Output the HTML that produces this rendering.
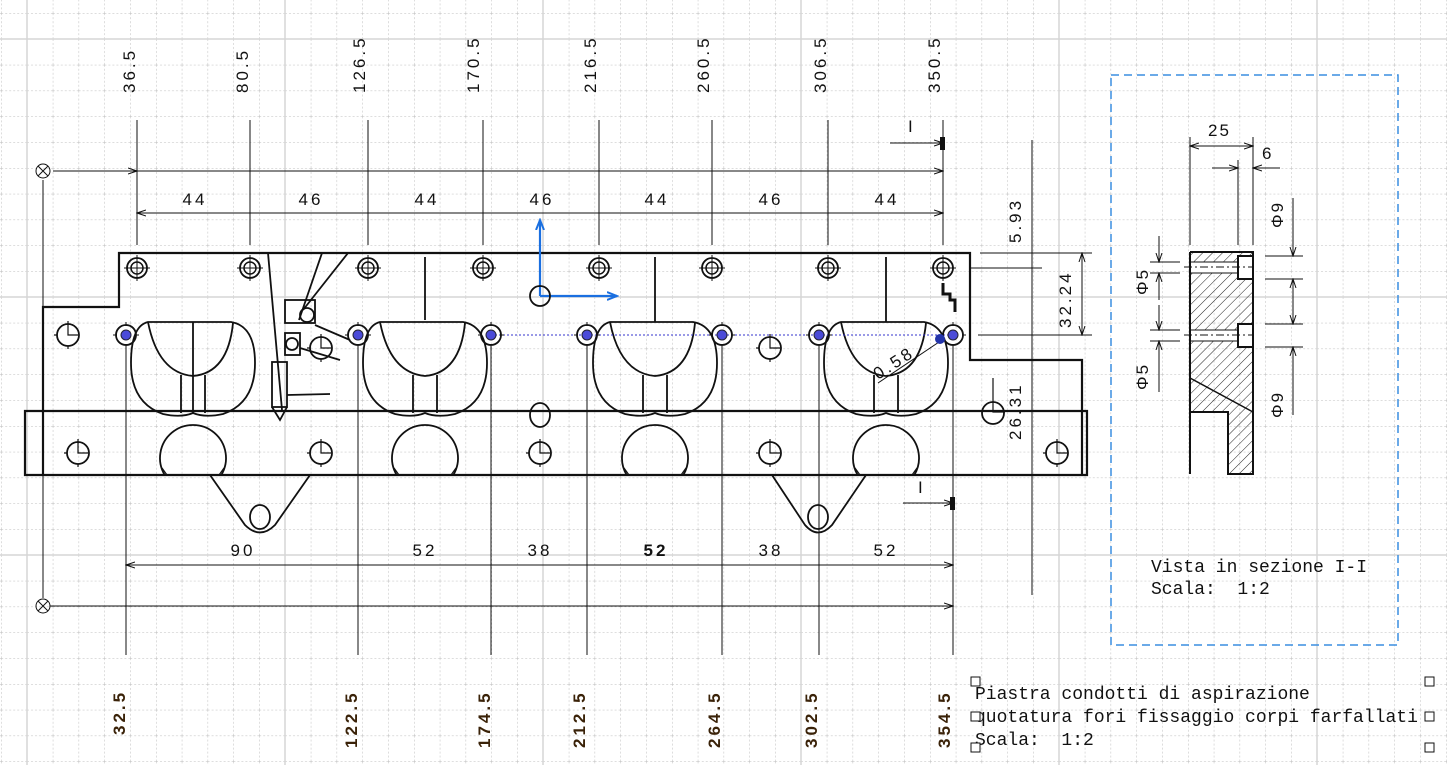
<!DOCTYPE html>
<html><head><meta charset="utf-8"><style>
html,body{margin:0;padding:0;background:#fff;}
svg{display:block;}
text{font-family:"Liberation Sans",sans-serif;fill:#111;}
.m{font-family:"Liberation Mono",monospace;font-size:18px;fill:#111;white-space:pre;}
</style></head><body>
<svg width="1447" height="765" viewBox="0 0 1447 765" xmlns="http://www.w3.org/2000/svg">
<defs>
<pattern id="g" x="27" y="39" width="25.8" height="25.8" patternUnits="userSpaceOnUse">
<path d="M0 0V25.8M0 0H25.8" stroke="#bbb" stroke-width="1" stroke-dasharray="2 2" fill="none"/>
</pattern>
<marker id="a" markerWidth="10" markerHeight="8" refX="9" refY="4" orient="auto" markerUnits="userSpaceOnUse"><path d="M0 1L9 4L0 7" fill="none" stroke="#111" stroke-width="1"/></marker>
<marker id="b" markerWidth="10" markerHeight="8" refX="1" refY="4" orient="auto" markerUnits="userSpaceOnUse"><path d="M10 1L1 4L10 7" fill="none" stroke="#111" stroke-width="1"/></marker>
<marker id="bl" markerWidth="12" markerHeight="10" refX="10" refY="5" orient="auto" markerUnits="userSpaceOnUse"><path d="M0 1L10 5L0 9" fill="none" stroke="#1a6fe0" stroke-width="2"/></marker>
<pattern id="h" width="7" height="7" patternUnits="userSpaceOnUse" patternTransform="rotate(45)"><path d="M0 0V7" stroke="#222" stroke-width="1"/></pattern>
<g id="th"><circle r="10" fill="none" stroke="#111" stroke-width="1.8"/><circle r="6" fill="none" stroke="#111" stroke-width="1.5"/><path d="M-13 0H13M0 -13V13" stroke="#111" stroke-width="1"/></g>
<g id="bh"><circle r="10" fill="none" stroke="#111" stroke-width="1.8"/><circle r="5" fill="#4a4ad8" stroke="#223" stroke-width="1"/><path d="M-13 0H-9M9 0H13M0 -13V-9M0 9V13" stroke="#111" stroke-width="1"/></g>
<g id="sh"><circle r="11" fill="none" stroke="#111" stroke-width="1.8"/><path d="M0 -14V0H10M-14 0H-11M0 11V14" stroke="#111" stroke-width="1.2" fill="none"/></g>
<g id="lobe" fill="none" stroke="#111" stroke-width="1.8">
<path d="M-45 -46 H38 Q62 -42 62 -5 Q62 35 30 46 Q12 50 0 45 Q-12 50 -30 46 Q-62 35 -62 -5 Q-62 -42 -45 -46Z"/>
<path d="M-45 -46 Q-35 5 0 8 Q35 5 40 -45"/>
<path d="M-12 7V45M12 7V45"/>
<path d="M-28.3 107 A33 33 0 1 1 28.3 107" />
<path d="M-31 100L-26 107M31 100L26 107" stroke-width="1.2"/>
</g>
</defs>
<rect width="1447" height="765" fill="#fff"/>
<rect width="1447" height="765" fill="url(#g)"/>
<g stroke="#d6d6d6" stroke-width="1.5">
<path d="M27 0V765M285 0V765M543 0V765M801 0V765M1059 0V765M1317 0V765M0 39H1447M0 297H1447M0 555H1447"/>
</g>

<g font-size="17" letter-spacing="3">
<text transform="translate(135,93) rotate(-90)">36.5</text>
<text transform="translate(248,93) rotate(-90)">80.5</text>
<text transform="translate(365,93) rotate(-90)">126.5</text>
<text transform="translate(479,93) rotate(-90)">170.5</text>
<text transform="translate(596,93) rotate(-90)">216.5</text>
<text transform="translate(709,93) rotate(-90)">260.5</text>
<text transform="translate(826,93) rotate(-90)">306.5</text>
<text transform="translate(940,93) rotate(-90)">350.5</text>
</g>
<g stroke="#111" stroke-width="1">
<path d="M137 120V245M250 120V245M368 120V245M483 120V245M599 120V245M712 120V245M828 120V245M943 120V245"/>
<path d="M43 180V598"/>
<path d="M53 171H137" marker-end="url(#a)"/>
<path d="M137 171H250M250 171H368M368 171H483M483 171H599M599 171H712M712 171H828M828 171H943" marker-end="url(#a)"/>
<path d="M137 213H250M250 213H368M368 213H483M483 213H599M599 213H712M712 213H828M828 213H943" marker-end="url(#a)" marker-start="url(#b)"/>
<path d="M890 143H943" marker-end="url(#a)"/>
<path d="M903 503H953" marker-end="url(#a)"/>
</g>
<rect x="940" y="137" width="5" height="13" fill="#111"/>
<rect x="950" y="497" width="5" height="13" fill="#111"/>
<text x="908" y="132" font-family="Liberation Serif" font-size="17">I</text>
<text x="918" y="493" font-family="Liberation Serif" font-size="17">I</text>
<g fill="none" stroke="#111" stroke-width="1"><circle cx="43" cy="171" r="7"/><path d="M38 166L48 176M48 166L38 176"/><circle cx="43" cy="606" r="7"/><path d="M38 601L48 611M48 601L38 611"/></g>
<g font-size="17" letter-spacing="3" text-anchor="middle">
<text x="195" y="205">44</text><text x="311" y="205">46</text><text x="427" y="205">44</text><text x="542" y="205">46</text><text x="657" y="205">44</text><text x="771" y="205">46</text><text x="887" y="205">44</text>
</g>

<g fill="none" stroke="#111" stroke-width="2.2">
<path d="M25 411H1087V475H25Z"/>
<path d="M43 411V307H119V253H970V360H1082V475"/>
<path d="M43 475V411"/>
</g>
<g stroke="#111" stroke-width="1.8">
<path d="M193 322V413M425 257V320M655 257V322M886 257V322"/>
</g>
<use href="#lobe" x="193" y="368"/>
<use href="#lobe" x="425" y="368"/>
<use href="#lobe" x="655" y="368"/>
<use href="#lobe" x="886" y="368"/>
<use href="#th" x="137" y="268"/><use href="#th" x="250" y="268"/><use href="#th" x="368" y="268"/><use href="#th" x="483" y="268"/><use href="#th" x="599" y="268"/><use href="#th" x="712" y="268"/><use href="#th" x="828" y="268"/><use href="#th" x="943" y="268"/>
<g stroke="#111" stroke-width="1">
<path d="M126 345V655M358 345V655M491 345V655M587 345V655M722 345V655M819 345V655M953 345V655"/>
<path d="M491 335H953" stroke="#3333cc" stroke-dasharray="2 2"/>
</g>
<use href="#bh" x="126" y="335"/><use href="#bh" x="358" y="335"/><use href="#bh" x="491" y="335"/><use href="#bh" x="587" y="335"/><use href="#bh" x="722" y="335"/><use href="#bh" x="819" y="335"/><use href="#bh" x="953" y="335"/>
<use href="#sh" x="68" y="335"/><use href="#sh" x="78" y="453"/><use href="#sh" x="321" y="348"/><use href="#sh" x="321" y="453"/><use href="#sh" x="540" y="453"/><use href="#sh" x="770" y="348"/><use href="#sh" x="770" y="453"/><use href="#sh" x="1057" y="453"/>
<g fill="none" stroke="#111" stroke-width="1.8">
<ellipse cx="540" cy="415" rx="10" ry="12"/>
<circle cx="993" cy="413" r="11"/><path d="M993 378V412H1005" stroke-width="1.2"/>
<path d="M210 475L245 525Q260 540 275 525L310 475"/>
<ellipse cx="260" cy="517" rx="10" ry="12"/>
<path d="M772 475L805 525Q818 540 832 525L866 475"/>
<ellipse cx="818" cy="517" rx="10" ry="12"/>
<path d="M268 253L282 410"/>
<path d="M322 253L299 320M348 253L303 310"/>
<rect x="285" y="300" width="30" height="23"/>
<circle cx="307" cy="315" r="7"/>
<rect x="285" y="333" width="15" height="22"/>
<circle cx="292" cy="344" r="6"/>
<rect x="272" y="362" width="15" height="45"/>
<path d="M272 407L280 420L287 407"/>
<path d="M287 395L330 394M300 348L340 360M315 325L350 340"/>
<path d="M943 283V294H950V300H955V312" stroke-width="3"/>
</g>
<text transform="translate(878,380) rotate(-33)" font-size="17" letter-spacing="3">0.58</text>
<path d="M878 383L945 338" stroke="#111" stroke-width="1"/>
<circle cx="940" cy="339" r="5" fill="#2233aa"/>
<g stroke="#1a6fe0" stroke-width="2.2" fill="none">
<path d="M540 296V220" marker-end="url(#bl)"/>
<path d="M540 296H617" marker-end="url(#bl)"/>
</g>
<circle cx="540" cy="296" r="10" fill="none" stroke="#111" stroke-width="1.8"/>

<g stroke="#111" stroke-width="1">
<path d="M980 253H1092M970 268H1042M978 335H1092M1032 140V595"/>
<path d="M1082 253V335" marker-end="url(#a)" marker-start="url(#b)"/>
</g>
<g font-size="17" letter-spacing="3">
<text transform="translate(1021,243) rotate(-90)">5.93</text>
<text transform="translate(1071,328) rotate(-90)">32.24</text>
<text transform="translate(1021,440) rotate(-90)">26.31</text>
</g>

<g stroke="#111" stroke-width="1">
<path d="M126 565H358M358 565H491M491 565H587M587 565H722M722 565H819M819 565H953" marker-end="url(#a)" marker-start="url(#b)"/>
<path d="M50 606H126M126 606H358M358 606H491M491 606H587M587 606H722M722 606H819M819 606H953" marker-end="url(#a)"/>
</g>
<g font-size="17" letter-spacing="3" text-anchor="middle">
<text x="243" y="556">90</text><text x="425" y="556">52</text><text x="540" y="556">38</text><text x="656" y="556" font-weight="bold">52</text><text x="771" y="556">38</text><text x="886" y="556">52</text>
</g>
<g font-size="17" letter-spacing="3" font-weight="bold">
<text transform="translate(125,735) rotate(-90)" style="fill:#3a2208">32.5</text>
<text transform="translate(357,748) rotate(-90)" style="fill:#3a2208">122.5</text>
<text transform="translate(490,748) rotate(-90)" style="fill:#3a2208">174.5</text>
<text transform="translate(585,748) rotate(-90)" style="fill:#3a2208">212.5</text>
<text transform="translate(720,748) rotate(-90)" style="fill:#3a2208">264.5</text>
<text transform="translate(817,748) rotate(-90)" style="fill:#3a2208">302.5</text>
<text transform="translate(950,748) rotate(-90)" style="fill:#3a2208">354.5</text>
</g>

<rect x="1111" y="75" width="287" height="570" fill="none" stroke="#3a8ee0" stroke-width="1.5" stroke-dasharray="8 5"/>
<g stroke="#111" stroke-width="1" fill="none">
<path d="M1190 137V245M1253 137V245M1238 160V245"/>
<path d="M1190 146H1253" marker-end="url(#a)" marker-start="url(#b)"/>
<path d="M1212 168H1238" marker-end="url(#a)"/>
<path d="M1280 168H1253" marker-end="url(#a)"/>
<path d="M1150 262H1180M1150 273H1180M1150 330H1180M1150 341H1180"/>
<path d="M1159 236V262" marker-end="url(#a)"/><path d="M1159 300V273" marker-end="url(#a)"/>
<path d="M1159 305V330" marker-end="url(#a)"/><path d="M1159 392V341" marker-end="url(#a)"/>
<path d="M1265 256H1303M1265 279H1303M1265 324H1303M1265 347H1303"/>
<path d="M1293 198V256" marker-end="url(#a)"/><path d="M1293 300V279" marker-end="url(#a)"/>
<path d="M1293 300V324" marker-end="url(#a)"/><path d="M1293 415V347" marker-end="url(#a)"/>
</g>
<path d="M1190 252H1253V412H1190Z" fill="url(#h)"/>
<path d="M1228 412H1253V474H1228Z" fill="url(#h)"/>
<rect x="1190" y="262" width="50" height="11" fill="#fff"/>
<rect x="1190" y="330" width="50" height="11" fill="#fff"/>
<rect x="1238" y="256" width="15" height="23" fill="#fff"/>
<rect x="1238" y="324" width="15" height="23" fill="#fff"/>
<g stroke="#111" stroke-width="2" fill="none">
<path d="M1190 252H1253V474H1228V412H1190"/>
<path d="M1190 252V474"/>
<path d="M1238 256H1253V279H1238ZM1238 324H1253V347H1238Z"/>
<path d="M1190 262H1238M1190 273H1238M1190 330H1238M1190 341H1238" stroke-width="1"/>
<path d="M1190 378L1253 412" stroke-width="1.5"/>
</g>
<path d="M1184 267H1253M1184 335H1253" stroke="#111" stroke-width="1" stroke-dasharray="8 3 2 3"/>
<g font-size="17" letter-spacing="2">
<text x="1208" y="136">25</text>
<text x="1262" y="159">6</text>
<text transform="translate(1283,228) rotate(-90)">Φ9</text>
<text transform="translate(1283,418) rotate(-90)">Φ9</text>
<text transform="translate(1148,295) rotate(-90)">Φ5</text>
<text transform="translate(1148,390) rotate(-90)">Φ5</text>
</g>
<text class="m" x="1151" y="572">Vista in sezione I-I</text>
<text class="m" x="1151" y="594">Scala:&#160;&#160;1:2</text>

<text class="m" x="975" y="699">Piastra condotti di aspirazione</text>
<text class="m" x="975" y="722">quotatura fori fissaggio corpi farfallati</text>
<text class="m" x="975" y="745">Scala:&#160;&#160;1:2</text>
<g fill="#fff" stroke="#111" stroke-width="1">
<rect x="971" y="677" width="9" height="9"/><rect x="971" y="712" width="9" height="9"/><rect x="971" y="743" width="9" height="9"/>
<rect x="1425" y="677" width="9" height="9"/><rect x="1425" y="712" width="9" height="9"/><rect x="1425" y="743" width="9" height="9"/>
</g>
</svg>
</body></html>
